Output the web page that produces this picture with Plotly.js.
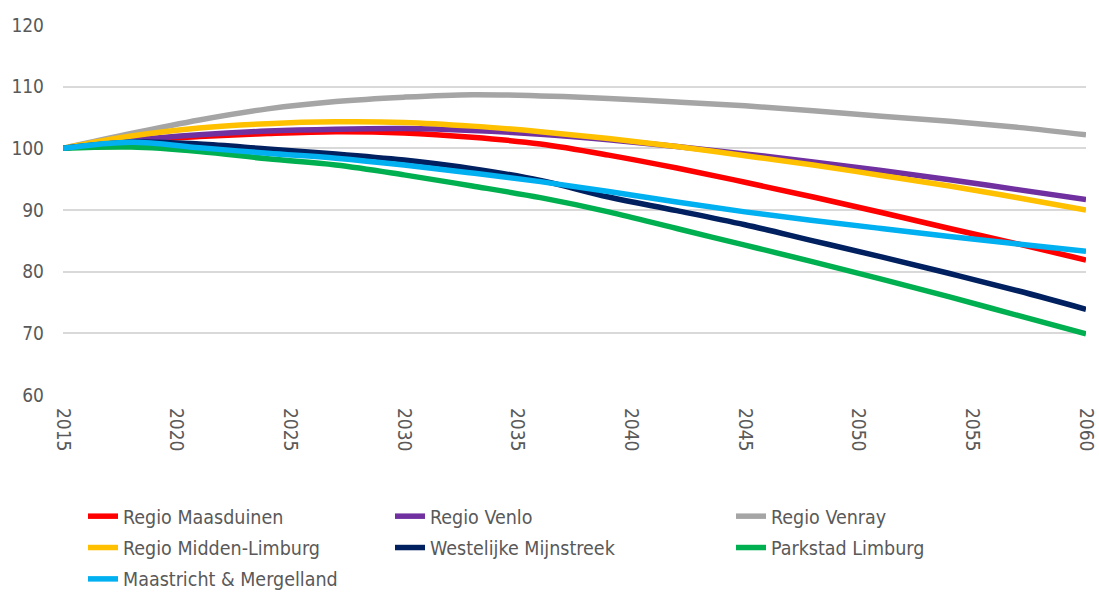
<!DOCTYPE html>
<html>
<head>
<meta charset="utf-8">
<script src="https://cdn.plot.ly/plotly-3.0.1.min.js"></script>
<style>html,body{margin:0;padding:0;background:#fff;}#chart{width:1099px;height:593px;}</style>
</head>
<body>
<div id="chart"></div>
<script>
var years = [2015, 2018, 2021, 2024, 2027, 2030, 2033, 2036, 2039, 2042, 2045, 2048, 2051, 2054, 2057, 2060];

var maasduinen     = [100, 101.2, 101.9, 102.4, 102.7, 102.5, 101.8, 100.7, 98.9, 96.8, 94.5, 92.1, 89.6, 87.0, 84.5, 81.9];
var venlo          = [100, 101.3, 102.2, 102.8, 103.1, 103.2, 102.9, 102.3, 101.4, 100.3, 99.1, 97.8, 96.4, 94.9, 93.3, 91.7];
var venray         = [100, 102.4, 104.6, 106.4, 107.6, 108.3, 108.7, 108.5, 108.1, 107.5, 106.9, 106.1, 105.2, 104.4, 103.4, 102.2];
var middenLimburg  = [100, 102.0, 103.3, 104.0, 104.3, 104.2, 103.6, 102.7, 101.6, 100.3, 98.8, 97.3, 95.6, 93.9, 92.0, 90.0];
var westMijnstreek = [100, 101.0, 100.7, 99.9, 99.1, 98.1, 96.7, 94.8, 92.1, 89.9, 87.6, 85.0, 82.4, 79.7, 76.9, 73.9];
var parkstad       = [100, 100.2, 99.5, 98.3, 97.3, 95.7, 93.9, 92.0, 89.7, 87.0, 84.3, 81.6, 78.8, 75.9, 72.9, 69.9];
var maastricht     = [100, 101.0, 100.1, 99.2, 98.4, 97.3, 96.0, 94.6, 93.0, 91.3, 89.7, 88.3, 87.0, 85.7, 84.5, 83.3];

var seriesNames = ["Regio Maasduinen", "Regio Venlo", "Regio Venray", "Regio Midden-Limburg",
                   "Westelijke Mijnstreek", "Parkstad Limburg", "Maastricht & Mergelland"];
var seriesValues = [maasduinen, venlo, venray, middenLimburg, westMijnstreek, parkstad, maastricht];
var seriesColors = ["#FF0000", "#7030A0", "#A5A5A5", "#FFC000", "#002060", "#00B050", "#00B0F0"];
var legendIds = ["legend", "legend2", "legend3", "legend", "legend2", "legend3", "legend"];

var xTicks = [2015, 2020, 2025, 2030, 2035, 2040, 2045, 2050, 2055, 2060];
var yTicks = [60, 70, 80, 90, 100, 110, 120];

var txt = "#595959";
var fam = "'DejaVu Sans Condensed', 'DejaVu Sans', sans-serif";

var traces = seriesNames.map(function (n, i) {
  return {
    x: years, y: seriesValues[i], name: n, type: "scatter", mode: "lines",
    line: {color: seriesColors[i], width: 5.5, shape: "spline", smoothing: 1},
    legend: legendIds[i], legendgroup: "g" + i, hoverinfo: "x+y+name"
  };
});

function leg(xpx) {
  return {
    xref: "container", yref: "container", x: xpx / 1099, y: 1 - 497 / 593,
    xanchor: "left", yanchor: "top", orientation: "v", tracegroupgap: 3,
    font: {family: fam, size: 19.5, color: txt}, bgcolor: "rgba(0,0,0,0)", borderwidth: 0
  };
}

var layout = {
  width: 1099, height: 593,
  margin: {l: 63, r: 13, t: 25, b: 198, autoexpand: false},
  paper_bgcolor: "#fff", plot_bgcolor: "#fff",
  showlegend: true,
  legend: leg(83), legend2: leg(390), legend3: leg(731),
  xaxis: {
    range: [2015, 2060], tickvals: xTicks, ticktext: xTicks.map(String),
    tickangle: 90, showgrid: false, zeroline: false, showline: false, automargin: false,
    ticks: "", ticklabelstandoff: 12, ticklabeloverflow: "allow",
    tickfont: {family: fam, size: 19, color: txt}
  },
  yaxis: {
    range: [60, 120], tickvals: yTicks, ticktext: yTicks.map(String), automargin: false,
    showgrid: true, gridcolor: "#D9D9D9", gridwidth: 1.5, zeroline: false, showline: false,
    ticks: "", ticklabelstandoff: 18,
    tickfont: {family: fam, size: 19, color: txt}
  }
};

Plotly.newPlot("chart", traces, layout, {displayModeBar: false, responsive: false});
</script>
</body>
</html>
